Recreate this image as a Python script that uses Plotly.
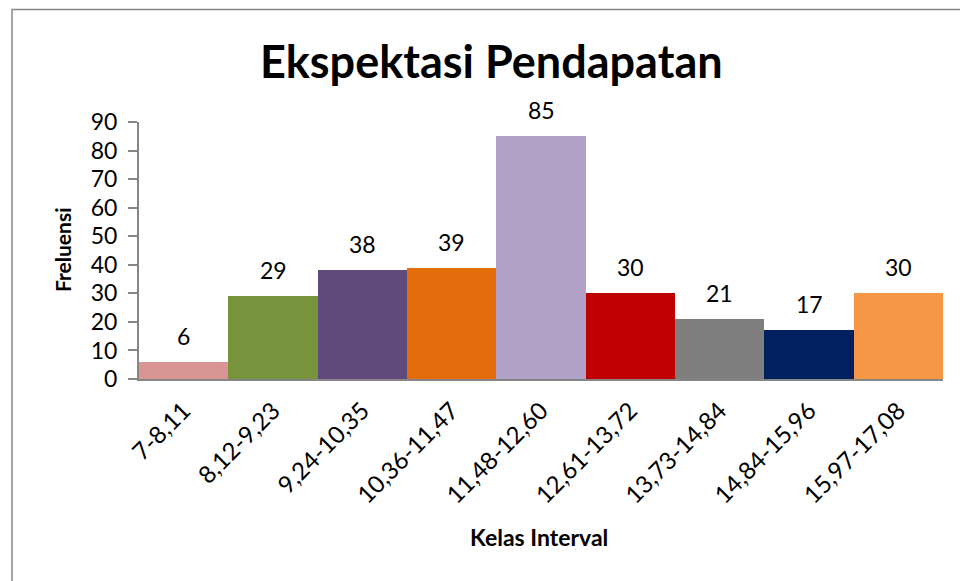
import plotly.graph_objects as go

categories = ["7-8,11", "8,12-9,23", "9,24-10,35", "10,36-11,47", "11,48-12,60",
              "12,61-13,72", "13,73-14,84", "14,84-15,96", "15,97-17,08"]
frequencies = [6, 29, 38, 39, 85, 30, 21, 17, 30]
bar_colors = ["#D99594", "#77933C", "#604A7B", "#E46C0A", "#B2A2C7",
              "#C00000", "#7F7F7F", "#002060", "#F79646"]
y_ticks = [0, 10, 20, 30, 40, 50, 60, 70, 80, 90]

FONT = "Lato"
OFF = 8  # default page body margin

fig = go.Figure()
fig.add_trace(go.Bar(
    x=categories, y=frequencies,
    marker=dict(color=bar_colors, line=dict(width=0)),
    showlegend=False,
))

for c, v in zip(categories, frequencies):
    fig.add_annotation(x=c, y=v, text=str(v), showarrow=False,
                       yanchor="bottom", yshift=10,
                       font=dict(family=FONT, size=23, color="#000000"))

W, H = 968 - OFF, 581 - OFF
L, T = 139 - OFF, 122 - OFF
pw, ph = 804, 257
R = W - L - pw
B = H - T - ph

def px_x(px):
    return (px - OFF - L) / pw

def px_y(py):
    return (H - B - (py - OFF)) / ph

fig.add_shape(type="rect", xref="paper", yref="paper",
              x0=px_x(12), x1=px_x(985),
              y0=px_y(600), y1=px_y(9.5),
              line=dict(color="#868686", width=1.5), fillcolor="rgba(0,0,0,0)",
              layer="below")

fig.add_annotation(text="<b>Ekspektasi Pendapatan</b>", xref="paper", yref="paper",
                   x=px_x(491), y=px_y(61), xanchor="center", yanchor="middle",
                   showarrow=False, font=dict(family=FONT, size=45, color="#000000"))
fig.add_annotation(text="<b>Kelas Interval</b>", xref="paper", yref="paper",
                   x=px_x(539), y=px_y(537), xanchor="center", yanchor="middle",
                   showarrow=False, font=dict(family=FONT, size=23, color="#000000"))
fig.add_annotation(text="<b>Freluensi</b>", xref="paper", yref="paper",
                   x=px_x(62), y=px_y(250), xanchor="center", yanchor="middle",
                   textangle=-90, showarrow=False,
                   font=dict(family=FONT, size=21, color="#000000"))

fig.update_layout(
    width=W, height=H,
    margin=dict(l=L, r=R, t=T, b=B, autoexpand=False),
    paper_bgcolor="white", plot_bgcolor="white",
    bargap=0,
    xaxis=dict(
        type="category", tickangle=-45, showgrid=False,
        showline=True, linecolor="#868686", linewidth=2,
        ticks="", ticklabelstandoff=6,
        tickfont=dict(family=FONT, size=24, color="#000000"),
        range=[-0.5, 8.5],
    ),
    yaxis=dict(
        range=[0, 90], tickvals=y_ticks, showgrid=False, zeroline=False,
        showline=True, linecolor="#868686", linewidth=2,
        ticks="outside", ticklen=9, tickcolor="#868686", tickwidth=2,
        ticklabelstandoff=6,
        tickfont=dict(family=FONT, size=23, color="#000000"),
    ),
)

fig.write_html("out.html")
